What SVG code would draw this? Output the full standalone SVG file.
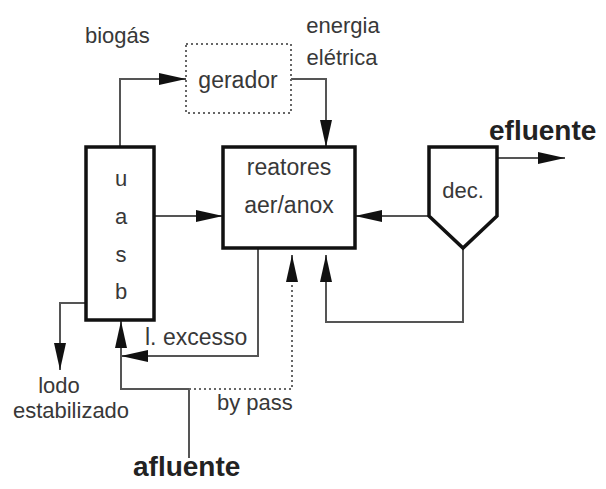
<svg xmlns="http://www.w3.org/2000/svg" width="606" height="489" viewBox="0 0 606 489">
<defs>
<marker id="ah" markerWidth="28" markerHeight="14" refX="27" refY="7" orient="auto" markerUnits="userSpaceOnUse">
<path d="M0,1 L27,7 L0,13 Z" fill="#111"/>
</marker>
<style>
.t{font-family:"Liberation Sans",Arial,sans-serif;font-size:22px;fill:#383838;}
.m{font-size:23px;}
.b{font-family:"Liberation Sans",Arial,sans-serif;font-size:28px;font-weight:bold;fill:#222;}
.box{fill:#fff;stroke:#111;stroke-width:3.5;}
.ln{fill:none;stroke:#555;stroke-width:2;}
.dot{fill:none;stroke:#666;stroke-width:2;stroke-dasharray:2,3;}
</style>
</defs>
<rect width="606" height="489" fill="#fff"/>
<g id="connectors">
<polyline class="ln" points="120,147 120,79 186,79" marker-end="url(#ah)"/>
<polyline class="ln" points="291,79 326,79 326,147" marker-end="url(#ah)"/>
<line class="ln" x1="154" y1="216" x2="223" y2="216" marker-end="url(#ah)"/>
<line class="ln" x1="429" y1="216" x2="355" y2="216" marker-end="url(#ah)"/>
<line class="ln" x1="497" y1="158" x2="565" y2="158" marker-end="url(#ah)"/>
<polyline class="ln" points="86,303 60,303 60,370" marker-end="url(#ah)"/>
<polyline class="ln" points="258,248 258,356 121,356" marker-end="url(#ah)"/>
<polyline class="ln" points="189,458 189,389 121,389 121,321" marker-end="url(#ah)"/>
<polyline class="dot" points="189,389 292,389 292,255"/>
<line class="ln" x1="292" y1="282" x2="292" y2="255" marker-end="url(#ah)"/>
<polyline class="ln" points="463,248 463,322 326,322 326,255" marker-end="url(#ah)"/>
</g>
<g id="uasb">
<rect class="box" x="86" y="147" width="68" height="173"/>
<text class="t" x="121" y="186" text-anchor="middle">u</text>
<text class="t" x="121" y="224" text-anchor="middle">a</text>
<text class="t" x="121" y="262" text-anchor="middle">s</text>
<text class="t" x="121" y="299" text-anchor="middle">b</text>
</g>
<g id="reatores">
<rect class="box" x="223" y="147" width="132" height="101"/>
<text class="t m" x="289" y="175" text-anchor="middle">reatores</text>
<text class="t m" x="289" y="213" text-anchor="middle">aer/anox</text>
</g>
<g id="gerador">
<rect x="186" y="44" width="105" height="69" fill="#fff" stroke="#666" stroke-width="2" stroke-dasharray="2,3"/>
<text class="t m" x="238" y="88" text-anchor="middle">gerador</text>
</g>
<g id="dec">
<path class="box" d="M429,147 L497,147 L497,216 L463,248 L429,216 Z"/>
<text class="t" x="463" y="198" text-anchor="middle">dec.</text>
</g>
<g id="labels">
<text class="t" x="85" y="43">biogás</text>
<text class="t" x="343" y="33" text-anchor="middle">energia</text>
<text class="t" x="342" y="65" text-anchor="middle">elétrica</text>
<text class="b" x="489" y="140">efluente</text>
<text class="t" x="59" y="393" text-anchor="middle">lodo</text>
<text class="t" x="71" y="418" text-anchor="middle">estabilizado</text>
<text class="t m" x="145" y="345">l. excesso</text>
<text class="t" x="217" y="410">by pass</text>
<text class="b" x="133" y="476">afluente</text>
</g>
</svg>
